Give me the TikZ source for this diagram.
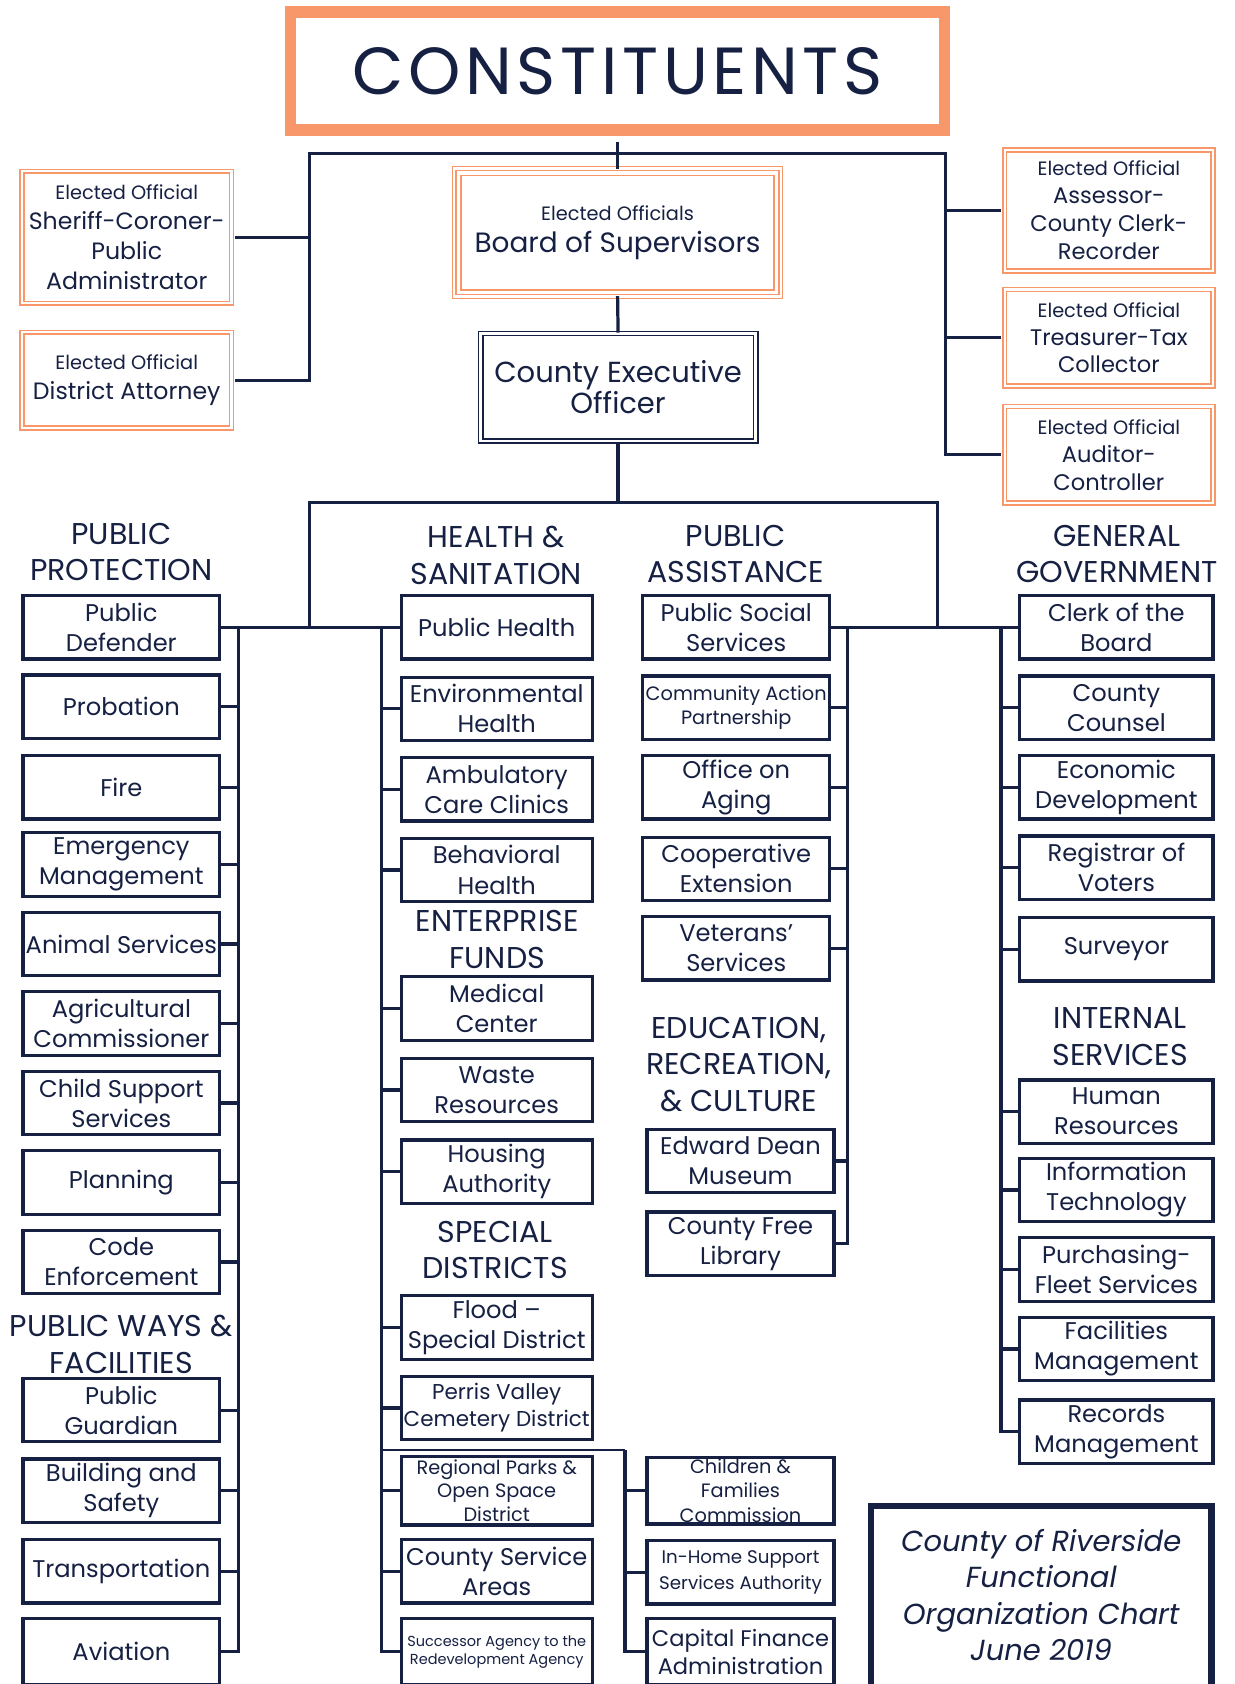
\documentclass[tikz,border=0pt]{standalone}
\usepackage{fontspec}
\setmainfont{Poppins}
\newfontfamily\wideface[LetterSpace=7]{Poppins}
\definecolor{CountyNavy}{RGB}{22,32,66}
\definecolor{CountyOrange}{RGB}{247,151,106}
\newcommand{\smalltag}{\fontsize{18}{22}\selectfont}

\begin{document}
\begin{tikzpicture}[x=1pt, y=-1pt,
    dept/.style={draw=CountyNavy, line width=3pt, text=CountyNavy, align=center,
      inner sep=0pt, minimum height=59pt, font=\fontsize{22.5}{28}\selectfont},
    pp/.style={dept, minimum width=183pt},
    hs/.style={dept, minimum width=178pt},
    pa/.style={dept, minimum width=174pt},
    gg/.style={dept, minimum width=180pt},
    elected/.style={draw=CountyOrange, double=white, line width=1.5pt, double distance=2pt,
      text=CountyNavy, align=center, inner sep=0pt, font=\fontsize{22}{28}\selectfont},
    head/.style={text=CountyNavy, align=center, inner sep=0pt, font=\fontsize{28}{34}\selectfont},
    link/.style={draw=CountyNavy, line width=3pt}
  ]
  \path[use as bounding box, fill=white] (0,0) rectangle (1149,1568);

  % Constituents and elected officials
  \node[draw=CountyOrange, line width=11pt, minimum width=609pt, minimum height=110pt,
    text=CountyNavy, font=\wideface\fontsize{62}{62}\selectfont] (const) at (575,66) {CONSTITUENTS};

  \node[elected, minimum width=195pt, minimum height=123pt] (sheriff) at (118,221)
    {{\smalltag Elected Official}\\Sheriff-Coroner-\\Public\\Administrator};
  \node[elected, minimum width=195pt, minimum height=89pt] (da) at (118,354)
    {{\smalltag Elected Official}\\District Attorney};
  \node[elected, minimum width=194pt, minimum height=113pt, font=\fontsize{21}{26}\selectfont] (assessor) at (1032.5,196)
    {{\smalltag Elected Official}\\Assessor-\\County Clerk-\\Recorder};
  \node[elected, minimum width=194pt, minimum height=90pt, font=\fontsize{21}{26}\selectfont] (treasurer) at (1032.5,314.5)
    {{\smalltag Elected Official}\\Treasurer-Tax\\Collector};
  \node[elected, minimum width=194pt, minimum height=90pt, font=\fontsize{21}{26}\selectfont] (auditor) at (1032.5,423.5)
    {{\smalltag Elected Official}\\Auditor-\\Controller};

  \node[elected, double distance=3pt, minimum width=296pt, minimum height=111pt,
    font=\fontsize{26}{30}\selectfont] (board) at (575,216.5)
    {{\smalltag Elected Officials}\\Board of Supervisors};
  \draw[CountyOrange, line width=1pt] ([shift={(-5,-5)}]board.north west) rectangle ([shift={(5,5)}]board.south east);

  \node[draw=CountyNavy, double=white, line width=1.5pt, double distance=2.5pt, minimum width=256pt,
    minimum height=100pt, align=center, inner sep=0pt, text=CountyNavy,
    font=\fontsize{27}{29}\selectfont] (ceo) at (575.5,360.5) {County Executive\\Officer};

  % Group headings
  \node[head] (ppHead) at (113,514) {PUBLIC\\PROTECTION};
  \node[head] (hsHead) at (462,517) {HEALTH \&\\SANITATION};
  \node[head] (paHead) at (685,516) {PUBLIC\\ASSISTANCE};
  \node[head] (ggHead) at (1040,516) {GENERAL\\GOVERNMENT};
  \node[head] (efHead) at (463,875) {ENTERPRISE\\FUNDS};
  \node[head] (sdHead) at (461,1164) {SPECIAL\\DISTRICTS};
  \node[head] (pwHead) at (113,1252) {PUBLIC WAYS \&\\FACILITIES};
  \node[head] (isHead) at (1043,965) {INTERNAL\\SERVICES};
  \node[head] (edHead) at (688,991) {EDUCATION,\\RECREATION,\\\& CULTURE};

  % Public protection / public ways
  \node[pp] (pd) at (113,584) {Public\\Defender};
  \node[pp] (prob) at (113,658) {Probation};
  \node[pp] (fire) at (113,733) {Fire};
  \node[pp] (emg) at (113,805) {Emergency\\Management};
  \node[pp] (anim) at (113,879) {Animal Services};
  \node[pp] (agri) at (113,953) {Agricultural\\Commissioner};
  \node[pp] (child) at (113,1027) {Child Support\\Services};
  \node[pp] (plan) at (113,1101) {Planning};
  \node[pp] (code) at (113,1175) {Code\\Enforcement};
  \node[pp] (guard) at (113,1313) {Public\\Guardian};
  \node[pp] (build) at (113,1388) {Building and\\Safety};
  \node[pp] (trans) at (113,1463) {Transportation};
  \node[pp, minimum height=62pt] (avia) at (113,1538) {Aviation};

  % Health, enterprise funds, special districts
  \node[hs] (ph) at (462.5,584) {Public Health};
  \node[hs] (env) at (462.5,660) {Environmental\\Health};
  \node[hs] (amb) at (462.5,735) {Ambulatory\\Care Clinics};
  \node[hs] (beh) at (462.5,810) {Behavioral\\Health};
  \node[hs] (med) at (462.5,939) {Medical\\Center};
  \node[hs] (waste) at (462.5,1015) {Waste\\Resources};
  \node[hs] (house) at (462.5,1091) {Housing\\Authority};
  \node[hs] (flood) at (462.5,1236) {Flood --\\Special District};
  \node[hs, font=\fontsize{20}{25}\selectfont] (perris) at (462.5,1311) {Perris Valley\\Cemetery District};
  \node[hs, minimum height=64pt, font=\fontsize{18}{22}\selectfont] (parks) at (462.5,1388)
    {Regional Parks \&\\Open Space\\District};
  \node[hs] (csa) at (462.5,1463) {County Service\\Areas};
  \node[hs, minimum height=62pt, font=\fontsize{13.5}{17}\selectfont] (succ) at (462.5,1538)
    {Successor Agency to the\\Redevelopment Agency};

  % Public assistance, education
  \node[pa] (pss) at (685.5,584) {Public Social\\Services};
  \node[pa, font=\fontsize{18}{22}\selectfont] (cap) at (685.5,659) {Community Action\\Partnership};
  \node[pa] (aging) at (685.5,733) {Office on\\Aging};
  \node[pa] (coop) at (685.5,809) {Cooperative\\Extension};
  \node[pa] (vet) at (685.5,883) {Veterans'\\Services};
  \node[pa] (museum) at (689.5,1081) {Edward Dean\\Museum};
  \node[pa] (library) at (689.5,1158) {County Free\\Library};
  \node[pa, minimum height=62pt, font=\fontsize{18}{22.5}\selectfont] (cfc) at (689.5,1388)
    {Children \&\\Families\\Commission};
  \node[pa, font=\fontsize{17}{24}\selectfont] (ihss) at (689.5,1464) {In-Home Support\\Services Authority};
  \node[pa, minimum height=62pt, font=\fontsize{21}{26}\selectfont] (cfa) at (689.5,1538)
    {Capital Finance\\Administration};

  % General government, internal services
  \node[gg] (clerk) at (1039.5,584) {Clerk of the\\Board};
  \node[gg] (counsel) at (1039.5,659) {County\\Counsel};
  \node[gg] (econ) at (1039.5,733) {Economic\\Development};
  \node[gg] (reg) at (1039.5,808) {Registrar of\\Voters};
  \node[gg] (surv) at (1039.5,884) {Surveyor};
  \node[gg] (hr) at (1039.5,1035) {Human\\Resources};
  \node[gg] (it) at (1039.5,1108) {Information\\Technology};
  \node[gg] (purch) at (1039.5,1182) {Purchasing-\\Fleet Services};
  \node[gg] (fac) at (1039.5,1256) {Facilities\\Management};
  \node[gg] (rec) at (1039.5,1333) {Records\\Management};

  % Chart title
  \draw[CountyNavy, line width=6pt] (811,1402) rectangle (1128,1595);
  \node[text=CountyNavy, align=center, inner sep=0pt, font=\itshape\fontsize{27}{34}\selectfont]
    (title) at (969.5,1485) {County of Riverside\\Functional\\Organization Chart\\June 2019};

  % Top connectors
  \coordinate (topL) at (288,143);
  \coordinate (topR) at (880,143);
  \draw[link, shorten <=5.5pt, shorten >=3pt] (const.south) -- (board.north);
  \draw[link, shorten <=2.5pt] (sheriff.east) -- (sheriff.east -| topL);
  \draw[link, shorten <=2.5pt, shorten >=2.5pt] (da.east) -| (topL) -- (topR) |- (auditor.west);
  \draw[link, shorten <=2.5pt] (assessor.west) -- (assessor.west -| topR);
  \draw[link, shorten <=2.5pt] (treasurer.west) -- (treasurer.west -| topR);
  \draw[link, shorten <=3pt] (board.south) -- (ceo.north);

  % CEO to departments
  \coordinate (midL) at (288,468);
  \coordinate (midR) at (873,468);
  \draw[link] (ceo.south) -- (ceo.south |- midL);
  \draw[link] (midL |- pd.east) -- (midL) -- (midR) -- (midR |- pss.east);
  \draw[link] (pd.east) -- (ph.west);
  \draw[link] (pss.east) -- (clerk.west);

  % Column trunks
  \coordinate (ppTrunk) at (222,584);
  \coordinate (hsTrunk) at (355,584);
  \coordinate (paTrunk) at (789,584);
  \coordinate (ggTrunk) at (932,584);
  \coordinate (lowBar) at (582,1350);

  \draw[link] (avia.east) -| (ppTrunk)
    (prob.east) -- (prob.east -| ppTrunk) (fire.east) -- (fire.east -| ppTrunk)
    (emg.east) -- (emg.east -| ppTrunk) (anim.east) -- (anim.east -| ppTrunk)
    (agri.east) -- (agri.east -| ppTrunk) (child.east) -- (child.east -| ppTrunk)
    (plan.east) -- (plan.east -| ppTrunk) (code.east) -- (code.east -| ppTrunk)
    (guard.east) -- (guard.east -| ppTrunk) (build.east) -- (build.east -| ppTrunk)
    (trans.east) -- (trans.east -| ppTrunk);

  \draw[link] (succ.west) -| (hsTrunk)
    (env.west) -- (env.west -| hsTrunk) (amb.west) -- (amb.west -| hsTrunk)
    (beh.west) -- (beh.west -| hsTrunk) (med.west) -- (med.west -| hsTrunk)
    (waste.west) -- (waste.west -| hsTrunk) (house.west) -- (house.west -| hsTrunk)
    (flood.west) -- (flood.west -| hsTrunk) (perris.west) -- (perris.west -| hsTrunk)
    (parks.west) -- (parks.west -| hsTrunk) (csa.west) -- (csa.west -| hsTrunk);

  \draw[link, line width=1.8pt] (lowBar -| hsTrunk) -- (lowBar);
  \draw[link] (cfa.west) -| (lowBar)
    (cfc.west) -- (cfc.west -| lowBar) (ihss.west) -- (ihss.west -| lowBar);

  \draw[link] (library.east) -| (paTrunk)
    (cap.east) -- (cap.east -| paTrunk) (aging.east) -- (aging.east -| paTrunk)
    (coop.east) -- (coop.east -| paTrunk) (vet.east) -- (vet.east -| paTrunk)
    (museum.east) -- (museum.east -| paTrunk);

  \draw[link] (rec.west) -| (ggTrunk)
    (counsel.west) -- (counsel.west -| ggTrunk) (econ.west) -- (econ.west -| ggTrunk)
    (reg.west) -- (reg.west -| ggTrunk) (surv.west) -- (surv.west -| ggTrunk)
    (hr.west) -- (hr.west -| ggTrunk) (it.west) -- (it.west -| ggTrunk)
    (purch.west) -- (purch.west -| ggTrunk) (fac.west) -- (fac.west -| ggTrunk);
\end{tikzpicture}
\end{document}
